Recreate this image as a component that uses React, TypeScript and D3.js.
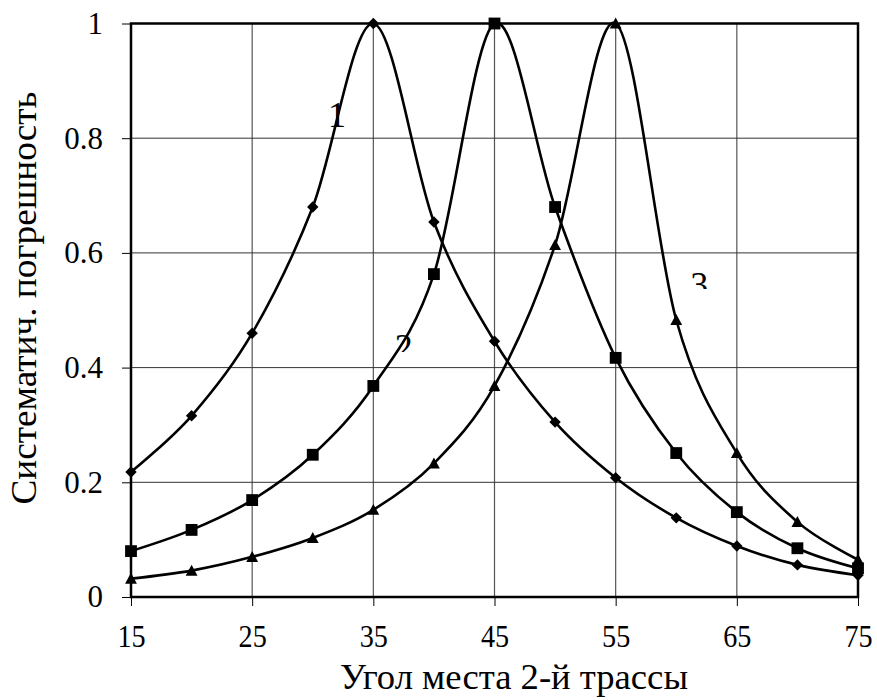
import { useEffect, useRef } from 'react'
import * as d3 from 'd3'

// angle of the 2nd track, degrees
const angles = [15, 20, 25, 30, 35, 40, 45, 50, 55, 60, 65, 70, 75]
const series1 = [0.218, 0.316, 0.46, 0.68, 1.0, 0.654, 0.446, 0.305, 0.208, 0.138, 0.089, 0.056, 0.038]
const series2 = [0.08, 0.117, 0.169, 0.248, 0.368, 0.563, 1.0, 0.68, 0.417, 0.251, 0.148, 0.085, 0.05]
const series3 = [0.032, 0.046, 0.07, 0.103, 0.152, 0.233, 0.368, 0.614, 1.0, 0.483, 0.251, 0.131, 0.065]

const xTicks = [15, 25, 35, 45, 55, 65, 75]
const yTicks = [0, 0.2, 0.4, 0.6, 0.8, 1]
const yTickLabels = ['0', '0.2', '0.4', '0.6', '0.8', '1']

// curve labels: [text, x, y (baseline), clip value or null]
const curveLabels: [string, number, number, number | null][] = [
  ['1', 32.0, 0.82, null],
  ['2', 37.5, 0.415, 0.427],
  ['3', 61.9, 0.523, 0.537],
]

const FONT = 'Liberation Serif, Times New Roman, serif'

const diamond = {
  draw(ctx: any, size: number) {
    const r = Math.sqrt(size) / 2
    ctx.moveTo(0, -r)
    ctx.lineTo(r, 0)
    ctx.lineTo(0, r)
    ctx.lineTo(-r, 0)
    ctx.closePath()
  },
}
const square = {
  draw(ctx: any, size: number) {
    const r = Math.sqrt(size) / 2
    ctx.rect(-r, -r, 2 * r, 2 * r)
  },
}
const triangle = {
  draw(ctx: any, size: number) {
    const r = Math.sqrt(size) / 2
    ctx.moveTo(0, -r)
    ctx.lineTo(r, r * 0.85)
    ctx.lineTo(-r, r * 0.85)
    ctx.closePath()
  },
}

export default function App() {
  const svgRef = useRef<SVGSVGElement>(null)

  useEffect(() => {
    if (!svgRef.current) return
    const svg = d3.select(svgRef.current)
    svg.selectAll('*').remove()

    const width = 877
    const height = 700
    const margin = { top: 23.5, right: 19, bottom: 103, left: 131 }

    const x = d3.scaleLinear().domain([15, 75]).range([margin.left, width - margin.right])
    const y = d3.scaleLinear().domain([0, 1]).range([height - margin.bottom, margin.top])

    svg.append('rect').attr('width', width).attr('height', height).attr('fill', 'white')

    // grid
    const grid = svg.append('g')
    grid.selectAll('.vg')
      .data(xTicks.slice(1, -1))
      .enter()
      .append('line')
      .attr('x1', d => x(d)).attr('x2', d => x(d))
      .attr('y1', y(0)).attr('y2', y(1))
      .attr('stroke', '#555')
      .attr('stroke-width', 1.2)
    grid.selectAll('.hg')
      .data(yTicks.slice(1, -1))
      .enter()
      .append('line')
      .attr('x1', x(15)).attr('x2', x(75))
      .attr('y1', d => y(d)).attr('y2', d => y(d))
      .attr('stroke', '#333')
      .attr('stroke-width', 1)

    // axes
    const xAxis = svg.append('g')
      .attr('transform', `translate(0,${y(0)})`)
      .call(d3.axisBottom(x).tickValues(xTicks).tickSizeInner(9).tickSizeOuter(0).tickPadding(18).tickFormat(d => String(d)))
      .attr('font-family', FONT)
      .attr('font-size', 32)
    xAxis.select('.domain').remove()
    xAxis.selectAll('line').attr('stroke', '#000').attr('stroke-width', 1)
    xAxis.selectAll('text')
      .attr('fill', '#000')
      .attr('transform', 'scale(0.88,1)')

    const yAxis = svg.append('g')
      .attr('transform', `translate(${x(15)},0)`)
      .call(d3.axisLeft(y).tickValues(yTicks).tickSizeInner(9).tickSizeOuter(0).tickPadding(19)
        .tickFormat((d, i) => yTickLabels[i]))
      .attr('font-family', FONT)
      .attr('font-size', 31)
    yAxis.select('.domain').remove()
    yAxis.selectAll('line').attr('stroke', '#000').attr('stroke-width', 1)
    yAxis.selectAll('text').attr('fill', '#000')

    // plot border
    svg.append('rect')
      .attr('x', x(15)).attr('y', y(1))
      .attr('width', x(75) - x(15)).attr('height', y(0) - y(1))
      .attr('fill', 'none')
      .attr('stroke', '#000')
      .attr('stroke-width', 2.5)

    const line = d3.line<number>()
      .x((_, i) => x(angles[i]))
      .y(d => y(d))
      .curve(d3.curveCardinal.tension(0))

    const all = [
      { values: series1, symbol: diamond, size: 130 },
      { values: series2, symbol: square, size: 140 },
      { values: series3, symbol: triangle, size: 140 },
    ]

    all.forEach(s => {
      svg.append('path')
        .datum(s.values)
        .attr('fill', 'none')
        .attr('stroke', '#000')
        .attr('stroke-width', 2.6)
        .attr('d', line)
    })
    all.forEach(s => {
      svg.append('g')
        .selectAll('path')
        .data(s.values)
        .enter()
        .append('path')
        .attr('transform', (d, i) => `translate(${x(angles[i])},${y(d)})`)
        .attr('d', d3.symbol(s.symbol as any, s.size)())
        .attr('fill', '#000')
    })

    // curve number labels (2 and 3 are partly hidden in the original)
    const defs = svg.append('defs')
    curveLabels.forEach(([t, lx, ly, clip], i) => {
      const txt = svg.append('text')
        .attr('x', x(lx))
        .attr('y', y(ly))
        .attr('text-anchor', 'middle')
        .attr('font-family', FONT)
        .attr('font-size', 36)
        .attr('fill', '#000')
        .text(t)
      if (clip !== null) {
        defs.append('clipPath')
          .attr('id', `lab${i}`)
          .append('rect')
          .attr('x', x(lx) - 30)
          .attr('y', y(ly) - 40)
          .attr('width', 60)
          .attr('height', y(clip) - y(ly) + 40)
        txt.attr('clip-path', `url(#lab${i})`)
      }
    })

    // axis titles
    svg.append('text')
      .attr('x', 514)
      .attr('y', 689)
      .attr('text-anchor', 'middle')
      .attr('textLength', 348)
      .attr('lengthAdjust', 'spacingAndGlyphs')
      .attr('font-family', FONT)
      .attr('font-size', 36)
      .attr('fill', '#000')
      .text('Угол места 2-й трассы')

    svg.append('text')
      .attr('transform', 'translate(36,298) rotate(-90)')
      .attr('text-anchor', 'middle')
      .attr('textLength', 413)
      .attr('lengthAdjust', 'spacingAndGlyphs')
      .attr('font-family', FONT)
      .attr('font-size', 35)
      .attr('fill', '#000')
      .text('Систематич. погрешность')
  }, [])

  return (
    <svg
      ref={svgRef}
      width={877}
      height={700}
      style={{ position: 'absolute', left: 0, top: 0, display: 'block' }}
    />
  )
}
